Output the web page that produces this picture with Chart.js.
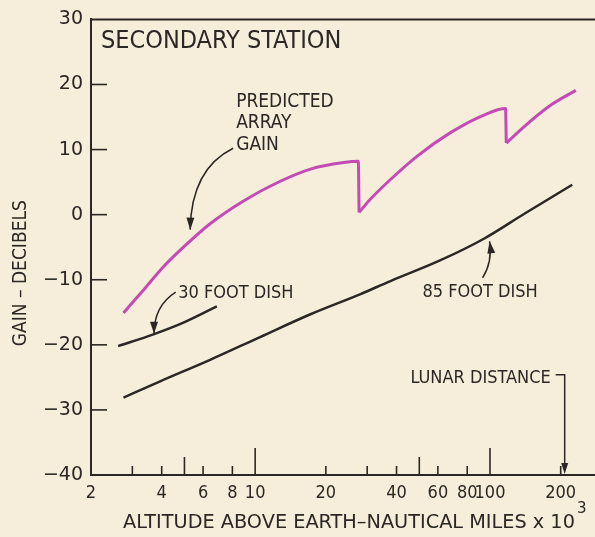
<!DOCTYPE html>
<html>
<head>
<meta charset="utf-8">
<script src="https://cdn.jsdelivr.net/npm/chart.js@4"></script>
<style>
  html, body { margin: 0; padding: 0; background: #f6eedb; }
  #wrap { width: 595px; height: 537px; position: relative; }
</style>
</head>
<body>
<div id="wrap"><canvas id="gainChart"></canvas></div>
<script>
// altitude in thousands of nautical miles, gain in dB
// predicted array gain, in three pieces split at the two sharp drops
const arrayAltA  = [2.75, 3.34, 4.07, 4.95, 6.43, 8.92, 12.4, 17.2, 23.8, 27.5, 27.7];
const arrayGainA = [-15.1, -11.6, -8.0, -5.0, -1.4, 2.1, 4.9, 7.0, 8.0, 8.2, 0.35];
const arrayAltB  = [27.7, 31.0, 37.7, 49.0, 67.9, 94.2, 116.5, 117.3];
const arrayGainB = [0.35, 2.4, 5.4, 9.0, 12.6, 15.3, 16.3, 11.0];
const arrayAltC  = [117.3, 139.5, 181, 232];
const arrayGainC = [11.0, 13.5, 16.8, 19.1];

const dish30Alt  = [2.61, 3.69, 4.95, 6.87];
const dish30Gain = [-20.2, -18.4, -16.6, -14.1];

const dish85Alt  = [2.75, 3.94, 6.43, 10.5, 17.2, 28.1, 37.7, 61.6, 94.2, 139.5, 224];
const dish85Gain = [-28.1, -25.6, -22.3, -18.8, -15.3, -12.2, -10.2, -7.0, -3.7, 0.1, 4.6];

const xTickLabels = [2, 4, 6, 8, 10, 20, 40, 60, 80, 100, 200];
const xTickMarks  = [3, 4, 5, 6, 8, 10, 20, 30, 40, 50, 60, 80, 100, 200];
const yTickLabels = [-40, -30, -20, -10, 0, 10, 20, 30];
const lunarDistance = 208;

const ink = '#2c2724';
const magenta = '#c44bb6';
const condensed = '"DejaVu Sans Condensed", "DejaVu Sans", sans-serif';
const regular = '"DejaVu Sans", sans-serif';

function pts(xs, ys) {
  return xs.map((x, i) => ({ x: x, y: ys[i] }));
}

function curve(label, xs, ys, color, width) {
  return {
    label: label,
    data: pts(xs, ys),
    borderColor: color,
    borderWidth: width,
    pointRadius: 0,
    cubicInterpolationMode: 'monotone'
  };
}

// label and pointer arrows, placed in data units (altitude, gain)
const notes = [
  { lines: ['PREDICTED', 'ARRAY', 'GAIN'], at: [8.3, 17.3], font: '19px ' + condensed, lead: 21.5,
    arrow: { from: [8.06, 10.2], ctrl: [5.34, 7.0], to: [5.29, -2.3] } },
  { lines: ['30 FOOT DISH'], at: [4.7, -12.1], font: '18px ' + condensed,
    arrow: { from: [4.59, -11.9], ctrl: [3.71, -14.0], to: [3.71, -18.3] } },
  { lines: ['85 FOOT DISH'], at: [51.6, -12.0], font: '18px ' + condensed,
    arrow: { from: [93.0, -9.7], ctrl: [102.6, -7.3], to: [99.6, -4.1] } }
];

function arrowHead(ctx, x0, y0, x1, y1, len, half) {
  const a = Math.atan2(y1 - y0, x1 - x0);
  ctx.beginPath();
  ctx.moveTo(x1, y1);
  ctx.lineTo(x1 - len * Math.cos(a) + half * Math.sin(a), y1 - len * Math.sin(a) - half * Math.cos(a));
  ctx.lineTo(x1 - len * Math.cos(a) - half * Math.sin(a), y1 - len * Math.sin(a) + half * Math.cos(a));
  ctx.closePath();
  ctx.fill();
}

const decorations = {
  id: 'decorations',
  afterDraw(chart) {
    const { ctx, chartArea: area, scales: { x, y } } = chart;
    const px = v => x.getPixelForValue(v);
    const py = v => y.getPixelForValue(v);
    ctx.save();
    ctx.strokeStyle = ink;
    ctx.fillStyle = ink;

    // top frame line
    ctx.lineWidth = 2;
    ctx.beginPath();
    ctx.moveTo(area.left, area.top);
    ctx.lineTo(area.right, area.top);
    ctx.stroke();

    // inward tick marks
    ctx.lineWidth = 1.6;
    yTickLabels.forEach(v => {
      if (v <= y.min || v >= y.max) return;
      ctx.beginPath();
      ctx.moveTo(area.left, py(v));
      ctx.lineTo(area.left + 16, py(v));
      ctx.stroke();
    });
    xTickMarks.forEach(v => {
      const len = (v === 10 || v === 100) ? 27 : (v === 5 || v === 50) ? 18 : 9;
      ctx.beginPath();
      ctx.moveTo(px(v), area.bottom);
      ctx.lineTo(px(v), area.bottom - len);
      ctx.stroke();
    });

    // panel title
    ctx.textBaseline = 'middle';
    ctx.textAlign = 'left';
    ctx.font = '25px ' + condensed;
    ctx.fillText('SECONDARY STATION', area.left + 10, area.top + 22);

    // curve labels with arrows
    notes.forEach(n => {
      ctx.font = n.font;
      n.lines.forEach((t, i) => ctx.fillText(t, px(n.at[0]), py(n.at[1]) + i * (n.lead || 0)));
      const a = n.arrow;
      const x0 = px(a.from[0]), y0 = py(a.from[1]);
      const cx = px(a.ctrl[0]), cy = py(a.ctrl[1]);
      const x1 = px(a.to[0]), y1 = py(a.to[1]);
      ctx.lineWidth = 1.5;
      ctx.beginPath();
      ctx.moveTo(x0, y0);
      ctx.quadraticCurveTo(cx, cy, x1, y1);
      ctx.stroke();
      arrowHead(ctx, cx, cy, x1, y1, 12, 4);
    });

    // lunar distance marker
    const lx = px(lunarDistance);
    const ly = py(-25.2);
    ctx.font = '18px ' + condensed;
    ctx.textAlign = 'right';
    ctx.fillText('LUNAR DISTANCE', lx - 14, ly);
    ctx.lineWidth = 1.5;
    ctx.beginPath();
    ctx.moveTo(lx - 9, ly - 4);
    ctx.lineTo(lx, ly - 4);
    ctx.lineTo(lx, area.bottom - 8);
    ctx.stroke();
    arrowHead(ctx, lx, ly, lx, area.bottom - 1, 11, 3.5);

    // axis titles
    ctx.textAlign = 'left';
    ctx.font = '19.3px ' + regular;
    const xt = 'ALTITUDE ABOVE EARTH\u2013NAUTICAL MILES x 10';
    ctx.fillText(xt, 123, 523);
    const w = ctx.measureText(xt).width;
    ctx.font = '15px ' + regular;
    ctx.fillText('3', 123 + w + 2, 509);

    ctx.translate(21, (area.top + area.bottom) / 2 + 26);
    ctx.rotate(-Math.PI / 2);
    ctx.textAlign = 'center';
    ctx.font = '19px ' + condensed;
    ctx.fillText('GAIN \u2013 DECIBELS', 0, 0);
    ctx.restore();
  }
};

const gainChart = new Chart(document.getElementById('gainChart'), {
  type: 'line',
  data: {
    datasets: [
      curve('Predicted array gain', arrayAltA, arrayGainA, magenta, 3),
      curve('Predicted array gain', arrayAltB, arrayGainB, magenta, 3),
      curve('Predicted array gain', arrayAltC, arrayGainC, magenta, 3),
      curve('30 foot dish', dish30Alt, dish30Gain, ink, 2.5),
      curve('85 foot dish', dish85Alt, dish85Gain, ink, 2.5)
    ]
  },
  options: {
    responsive: true,
    maintainAspectRatio: false,
    animation: false,
    layout: { padding: { top: 16, right: 0, bottom: 0, left: 0 } },
    plugins: {
      legend: { display: false },
      tooltip: { enabled: false }
    },
    scales: {
      x: {
        type: 'logarithmic',
        min: 2,
        max: 280,
        grid: { display: false, drawTicks: false },
        border: { color: ink, width: 2 },
        afterBuildTicks: s => { s.ticks = xTickLabels.map(v => ({ value: v })); },
        afterFit: s => { s.height = 62; },
        ticks: {
          autoSkip: false,
          maxRotation: 0,
          padding: 8,
          color: ink,
          font: { family: condensed, size: 18 },
          callback: v => String(v)
        }
      },
      y: {
        min: -40,
        max: 30,
        grid: { display: false, drawTicks: false },
        border: { color: ink, width: 2 },
        afterBuildTicks: s => { s.ticks = yTickLabels.map(v => ({ value: v })); },
        afterFit: s => { s.width = 91; },
        ticks: {
          padding: 8,
          color: ink,
          font: { family: regular, size: 19 },
          callback: v => v < 0 ? '\u2212' + Math.abs(v) : String(v)
        }
      }
    }
  },
  plugins: [decorations]
});
</script>
</body>
</html>
